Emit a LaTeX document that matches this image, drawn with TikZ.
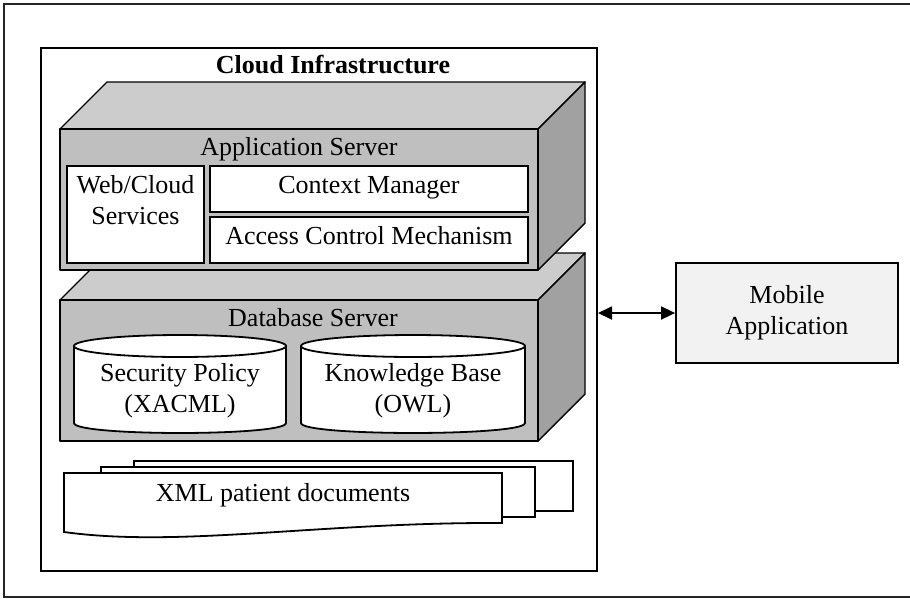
\documentclass[tikz,border=0pt]{standalone}
\usepackage{fontspec}
\setmainfont{Liberation Serif}
\usetikzlibrary{arrows.meta}

\definecolor{topface}{gray}{0.80}
\definecolor{frontface}{gray}{0.75}
\definecolor{sideface}{gray}{0.63}
\definecolor{mobilefill}{gray}{0.95}

\tikzset{
  frame/.style={draw=black!85, line width=1.5pt},
  face/.style={draw=black, line width=1.4pt, line join=round},
  inbox/.style={draw=black, fill=white, line width=1.8pt},
  lbl/.style={font=\fontsize{26}{31}\selectfont, inner sep=0pt, align=center},
  titlelbl/.style={lbl, font=\fontsize{26}{31}\selectfont\bfseries},
  bothways/.style={line width=1.8pt, {Triangle[length=14pt,width=13pt]}-{Triangle[length=14pt,width=13pt]}},
}

% блок сервера: передняя грань (#1,#2)-(#3,#4), глубина 47
\newcommand{\serverblock}[4]{%
  \draw[face, fill=topface] (#1,#2) -- (#1+47,#2-47) -- (#3+47,#2-47) -- (#3,#2) -- cycle;
  \draw[face, fill=sideface] (#3,#2) -- (#3+47,#2-47) -- (#3+47,#4-47) -- (#3,#4) -- cycle;
  \draw[face, fill=frontface] (#1,#2) rectangle (#3,#4);
}

\begin{document}
\begin{tikzpicture}[x=1pt, y=-1pt]
  \useasboundingbox (0,0) rectangle (910,598);

  % Рамка
  \draw[frame] (916,4) -- (4,4) -- (4,597) -- (916,597);

  % Облако
  \node[draw, line width=2pt, minimum width=556pt, minimum height=523pt, inner sep=0pt] (cloud) at (319,309.5) {};
  \node[titlelbl, anchor=base] (cloudname) at (333,73) {Cloud Infrastructure};

  % Сервер БД (рисуется первым, его верх закрыт)
  \serverblock{60}{300}{538}{441}
  \node[lbl, anchor=base] (dbname) at (313,326) {Database Server};

  \draw[inbox] (74,346) -- (74,423) .. controls (74,436.3) and (286,436.3) .. (286,423) -- (286,346);
  \draw[inbox] (180,346) ellipse [x radius=106pt, y radius=11pt];
  \node[lbl] (policy) at (180,391) {Security Policy\\(XACML)};

  \draw[inbox] (301,346) -- (301,423) .. controls (301,436.3) and (525,436.3) .. (525,423) -- (525,346);
  \draw[inbox] (413,346) ellipse [x radius=112pt, y radius=11pt];
  \node[lbl] (kb) at (413,391) {Knowledge Base\\(OWL)};

  % Сервер приложений
  \serverblock{60}{129}{538}{270}
  \node[lbl, anchor=base] (appname) at (299,155) {Application Server};

  \draw[inbox] (67,166) rectangle (204,263);
  \node[lbl] (web) at (135.5,200) {Web/Cloud\\Services};
  \draw[inbox] (210,166) rectangle (528,212);
  \node[lbl, anchor=base] (ctx) at (369,193) {Context Manager};
  \draw[inbox] (210,217) rectangle (528,263);
  \node[lbl, anchor=base] (acm) at (369,244) {Access Control Mechanism};

  % Документы
  \draw[inbox] (134,461) rectangle (573,511);
  \draw[inbox] (101,467) rectangle (535,517);
  \draw[inbox] (64,473) -- (502,473) -- (502,523) .. controls (320,522) and (180,548) .. (64,532) -- cycle;
  \node[lbl, anchor=base] (docs) at (283,501) {XML patient documents};

  % Мобильное приложение
  \node[draw, fill=mobilefill, line width=1.8pt, minimum width=222pt, minimum height=100pt] (mob) at (787,313) {};
  \node[lbl] (mobname) at (mob) {Mobile\\Application};

  \draw[bothways] (mob.west -| cloud.east) -- (mob.west);
\end{tikzpicture}
\end{document}
